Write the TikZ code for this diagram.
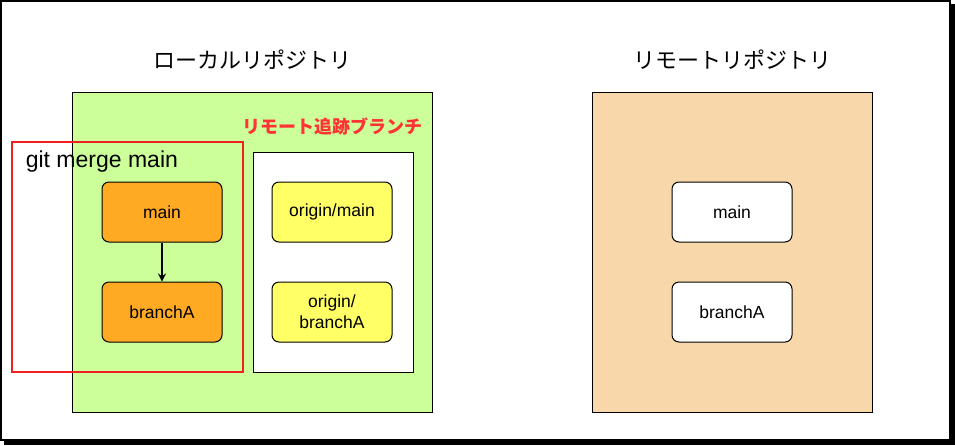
\documentclass[tikz,border=0pt]{standalone}
\usepackage{fontspec}
\setmainfont{Liberation Sans}
\newfontfamily\jp{Noto Sans CJK JP}
\begin{document}
\begin{tikzpicture}[x=1pt,y=-1pt,line width=1pt,
  box/.style={draw=black,rounded corners=7pt,minimum width=120pt,minimum height=60pt,font=\fontsize{17.5}{21}\selectfont,align=center,inner sep=0pt},
  title/.style={font=\jp\fontsize{22}{24}\selectfont}]
\useasboundingbox (0,0) rectangle (955,445);
\fill[white] (0,0) rectangle (955,445);
\draw[line width=2.5pt] (1,1) rectangle (950,440);
\fill[black] (950,4) rectangle (955,445);
\fill[black] (4,440) rectangle (955,445);
\node[title] (lt) at (252,60) {ローカルリポジトリ};
\node[title] (rt) at (732,60) {リモートリポジトリ};
\node[draw,fill={rgb,255:red,204;green,255;blue,153},minimum width=360pt,minimum height=320pt,inner sep=0] (local) at (252,252) {};
\node[draw,fill={rgb,255:red,248;green,215;blue,170},minimum width=280pt,minimum height=320pt,inner sep=0] (remote) at (732,252) {};
\node[font=\jp\bfseries\fontsize{18}{20}\selectfont,text={rgb,255:red,255;green,51;blue,51}] (rtb) at (332,126) {リモート追跡ブランチ};
\node[draw,fill=white,minimum width=160pt,minimum height=220pt,inner sep=0] (track) at (333,262) {};
\node[box,fill={rgb,255:red,255;green,255;blue,102}] (om) at (332,212) {origin/main};
\node[box,fill={rgb,255:red,255;green,255;blue,102}] (ob) at (332,312) {origin/\\branchA};
\node[box,fill={rgb,255:red,255;green,170;blue,34}] (m) at (162,212) {main};
\node[box,fill={rgb,255:red,255;green,170;blue,34}] (b) at (162,312) {branchA};
\draw[->,line width=2.5pt,>=stealth] (m) -- (b);
\node[draw={rgb,255:red,240;green,32;blue,32},line width=2.5pt,minimum width=231pt,minimum height=230pt,inner sep=0] (merge) at (127.5,257) {};
\node[anchor=west,font=\fontsize{23}{26}\selectfont] (gm) at (22,162) {git merge main};
\node[box,fill=white] (rm) at (732,212) {main};
\node[box,fill=white] (rb) at (732,312) {branchA};
\end{tikzpicture}
\end{document}
